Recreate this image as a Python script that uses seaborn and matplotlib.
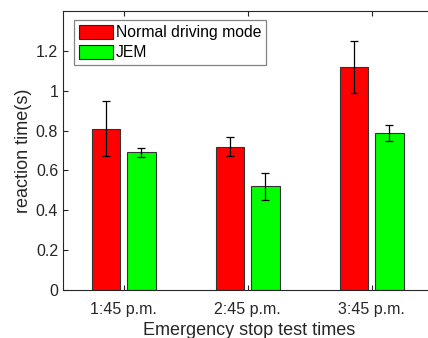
import matplotlib
matplotlib.use("Agg")
import matplotlib.pyplot as plt
import seaborn as sns
import pandas as pd
import numpy as np

categories = ["1:45 p.m.", "2:45 p.m.", "3:45 p.m."]
series_names = ["Normal driving mode", "JEM"]
normal_vals = [0.81, 0.72, 1.12]
normal_err = [0.14, 0.05, 0.13]
jem_vals = [0.69, 0.52, 0.79]
jem_err = [0.025, 0.068, 0.04]
y_ticks = [0, 0.2, 0.4, 0.6, 0.8, 1.0, 1.2]
y_tick_labels = ["0", "0.2", "0.4", "0.6", "0.8", "1", "1.2"]

df = pd.DataFrame({
    "time": categories * 2,
    "mode": [series_names[0]] * 3 + [series_names[1]] * 3,
    "value": normal_vals + jem_vals,
})
errs = {series_names[0]: normal_err, series_names[1]: jem_err}

sns.set_theme(style="white")
plt.rcParams["font.family"] = ["Liberation Sans", "DejaVu Sans"]
txt = "#262626"

fig = plt.figure(figsize=(4.28, 3.38), dpi=100)
ax = fig.add_axes([63 / 428, 48 / 338, 372 / 428, 279 / 338])

sns.barplot(data=df, x="time", y="value", hue="mode", order=categories,
            hue_order=series_names, palette=["#FF0000", "#00FF00"],
            width=0.57, gap=0.2, errorbar=None, edgecolor="#333333",
            linewidth=0.8, saturation=1, ax=ax)

for cont, name in zip(ax.containers, series_names):
    xs = [p.get_x() + p.get_width() / 2 for p in cont.patches]
    ys = [p.get_height() for p in cont.patches]
    ax.errorbar(xs, ys, yerr=errs[name], fmt="none", ecolor="black",
                elinewidth=0.9, capsize=3.2, capthick=0.9, zorder=5)

ax.set_xlim(-0.49, 2.51)
ax.set_ylim(0, 1.4)
ax.set_yticks(y_ticks)
ax.set_yticklabels(y_tick_labels)
ax.tick_params(direction="in", length=3.5, width=0.8, colors=txt,
               labelsize=11.5, top=True, right=True, left=True, bottom=True)
ax.tick_params(axis="x", pad=8.5)
ax.tick_params(axis="y", pad=3.5)
for s in ax.spines.values():
    s.set_color(txt)
    s.set_linewidth(0.8)
    s.set_visible(True)

ax.set_xlabel("Emergency stop test times", fontsize=13, color=txt, labelpad=4)
ax.set_ylabel("reaction time(s)", fontsize=13, color=txt, labelpad=3)

leg = ax.legend(loc="upper left", bbox_to_anchor=(0.03, 0.968), fontsize=11.3,
                frameon=True, fancybox=False, edgecolor="#666666",
                handlelength=2.2, handleheight=1.0, handletextpad=0.15,
                borderpad=0.3, labelspacing=0.3, borderaxespad=0)
leg.get_frame().set_linewidth(0.9)
for h in leg.get_patches():
    h.set_edgecolor("#222222")
for t in leg.get_texts():
    t.set_color("black")

fig.savefig("out.png", dpi=100)
